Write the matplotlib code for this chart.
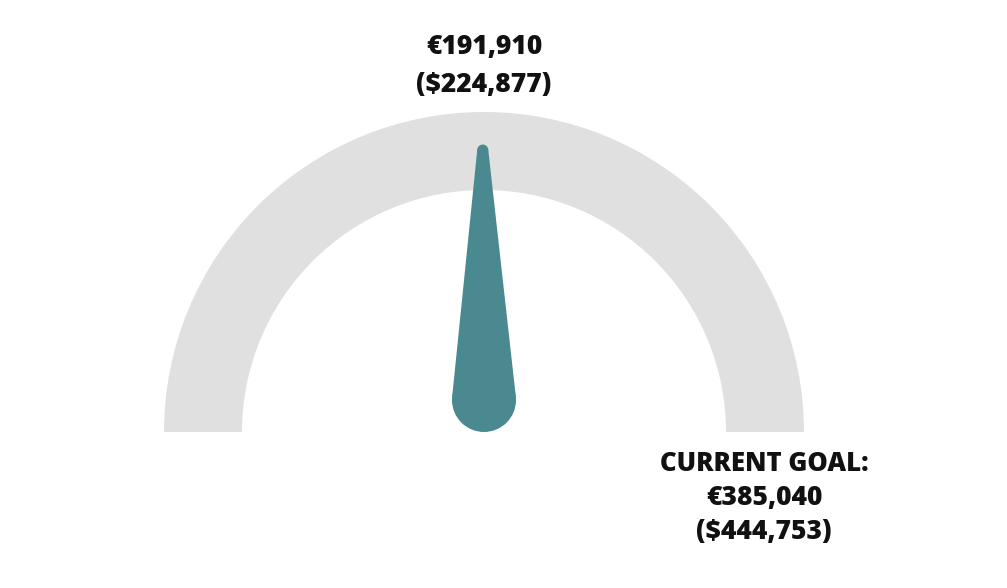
import numpy as np
import matplotlib
matplotlib.use("Agg")
import matplotlib.pyplot as plt
from matplotlib.patches import Wedge, Circle, Polygon

# Data
current_eur = 191910
current_usd = 224877
goal_eur = 385040
goal_usd = 444753
goal_label = "CURRENT GOAL:"

W, H = 1007, 588
fig = plt.figure(figsize=(W / 100, H / 100), dpi=100)
ax = fig.add_axes([0, 0, 1, 1])
ax.set_xlim(0, W)
ax.set_ylim(0, H)
ax.set_aspect("equal")
ax.axis("off")

gray = "#dfe0df"
teal = "#4b8990"

cx, cy = 484, H - 432
r_out, band = 320, 78
ax.add_patch(Wedge((cx, cy), r_out, 0, 180, width=band, facecolor=gray, edgecolor="none"))

# Needle
frac = current_eur / goal_eur
ang = np.deg2rad(180 - 180 * frac)
px, py = cx, cy + 32
r_base, r_tip, length = 32, 5.5, 250
tx, ty = px + length * np.cos(ang), py + length * np.sin(ang)
theta = np.arccos((r_base - r_tip) / length)
pts = [
    (px + r_base * np.cos(ang + theta), py + r_base * np.sin(ang + theta)),
    (tx + r_tip * np.cos(ang + theta), ty + r_tip * np.sin(ang + theta)),
    (tx + r_tip * np.cos(ang - theta), ty + r_tip * np.sin(ang - theta)),
    (px + r_base * np.cos(ang - theta), py + r_base * np.sin(ang - theta)),
]
ax.add_patch(Polygon(pts, closed=True, facecolor=teal, edgecolor="none"))
ax.add_patch(Circle((px, py), r_base, facecolor=teal, edgecolor="none"))
ax.add_patch(Circle((tx, ty), r_tip, facecolor=teal, edgecolor="none"))

font = dict(family=["Open Sans", "DejaVu Sans"], weight="heavy", color="#111111", ha="center", va="center")
fs = 19
ax.text(cx, H - 47, f"€{current_eur:,}", fontsize=fs, **font)
ax.text(cx, H - 85, f"(${current_usd:,})", fontsize=fs, **font)
bx = 764
ax.text(bx, H - 464, goal_label, fontsize=fs - 0.5, **font)
ax.text(bx, H - 498, f"€{goal_eur:,}", fontsize=fs, **font)
ax.text(bx, H - 532, f"(${goal_usd:,})", fontsize=fs, **font)

fig.savefig("out.png", dpi=100, facecolor="white")
